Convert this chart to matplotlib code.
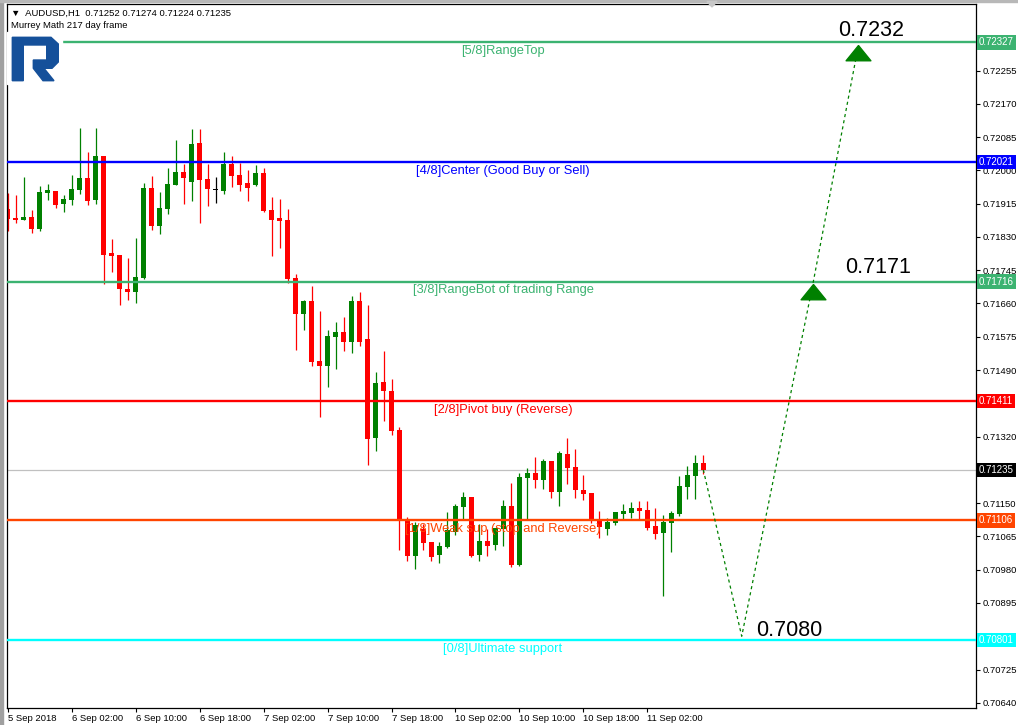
import matplotlib
matplotlib.use("Agg")
import matplotlib.pyplot as plt
from matplotlib.patches import Rectangle, Polygon
import numpy as np

plt.rcParams['font.family'] = ['Liberation Sans', 'DejaVu Sans']

# hourly AUDUSD candles, 5 Sep 18:00 .. 11 Sep 09:00
opens = [0.71902, 0.71879, 0.71874, 0.71881, 0.71849, 0.71943, 0.71948, 0.71915, 0.71925, 0.71950,
         0.71981, 0.71925, 0.72037, 0.71789, 0.71784, 0.71697, 0.71690, 0.71725, 0.71955, 0.71858,
         0.71902, 0.71963, 0.71996, 0.71971, 0.72070, 0.71978, 0.71949, 0.71948, 0.72017, 0.71988,
         0.71968, 0.71963, 0.71994, 0.71899, 0.71879, 0.71874, 0.71725, 0.71633, 0.71667, 0.71513,
         0.71500, 0.71575, 0.71587, 0.71562, 0.71667, 0.71569, 0.71317, 0.71460, 0.71437, 0.71337,
         0.71107, 0.71015, 0.71084, 0.71051, 0.71018, 0.71038, 0.71076, 0.71140, 0.71166, 0.71018,
         0.71053, 0.71043, 0.71084, 0.71143, 0.70992, 0.71214, 0.71227, 0.71209, 0.71258, 0.71179,
         0.71276, 0.71242, 0.71184, 0.71176, 0.71104, 0.71084, 0.71099, 0.71122, 0.71125, 0.71138,
         0.71133, 0.71092, 0.71074, 0.71099, 0.71122, 0.71191, 0.71219, 0.71252]
highs = [0.71943, 0.71937, 0.71983, 0.71899, 0.71960, 0.71965, 0.71948, 0.71937, 0.71988, 0.72109,
         0.72047, 0.72109, 0.72037, 0.71825, 0.71784, 0.71776, 0.71828, 0.71968, 0.71986, 0.71945,
         0.72006, 0.72078, 0.72017, 0.72106, 0.72106, 0.72017, 0.71983, 0.72047, 0.72037, 0.72019,
         0.72001, 0.72014, 0.72006, 0.71932, 0.71927, 0.71902, 0.71736, 0.71669, 0.71705, 0.71641,
         0.71592, 0.71613, 0.71626, 0.71679, 0.71690, 0.71656, 0.71485, 0.71539, 0.71467, 0.71345,
         0.71115, 0.71102, 0.71097, 0.71051, 0.71051, 0.71127, 0.71148, 0.71179, 0.71166, 0.71097,
         0.71084, 0.71087, 0.71158, 0.71202, 0.71227, 0.71240, 0.71268, 0.71263, 0.71258, 0.71283,
         0.71317, 0.71288, 0.71222, 0.71176, 0.71130, 0.71112, 0.71127, 0.71148, 0.71153, 0.71156,
         0.71156, 0.71138, 0.71120, 0.71130, 0.71219, 0.71245, 0.71273, 0.71274]
lows = [0.71846, 0.71866, 0.71872, 0.71839, 0.71844, 0.71925, 0.71904, 0.71894, 0.71912, 0.71940,
        0.71912, 0.71914, 0.71710, 0.71741, 0.71656, 0.71669, 0.71661, 0.71723, 0.71848, 0.71838,
        0.71889, 0.71963, 0.71914, 0.71922, 0.71866, 0.71909, 0.71917, 0.71940, 0.71958, 0.71948,
        0.71922, 0.71960, 0.71894, 0.71782, 0.71802, 0.71713, 0.71541, 0.71592, 0.71500, 0.71370,
        0.71447, 0.71493, 0.71539, 0.71534, 0.71552, 0.71248, 0.71283, 0.71360, 0.71324, 0.71030,
        0.71002, 0.70982, 0.71030, 0.71002, 0.70997, 0.71035, 0.71069, 0.71107, 0.71012, 0.71002,
        0.71015, 0.71030, 0.71041, 0.70987, 0.70989, 0.71110, 0.71189, 0.71186, 0.71163, 0.71143,
        0.71199, 0.71163, 0.71158, 0.71099, 0.71061, 0.71069, 0.71094, 0.71110, 0.71112, 0.71110,
        0.71081, 0.71058, 0.70913, 0.71025, 0.71117, 0.71161, 0.71161, 0.71224]
closes = [0.71876, 0.71872, 0.71881, 0.71851, 0.71945, 0.71950, 0.71912, 0.71927, 0.71953, 0.71981,
          0.71922, 0.72037, 0.71784, 0.71782, 0.71697, 0.71690, 0.71728, 0.71955, 0.71858, 0.71904,
          0.71965, 0.71996, 0.71981, 0.72068, 0.71976, 0.71953, 0.71949, 0.72017, 0.71986, 0.71963,
          0.71955, 0.71994, 0.71896, 0.71874, 0.71871, 0.71723, 0.71633, 0.71667, 0.71511, 0.71500,
          0.71577, 0.71587, 0.71562, 0.71667, 0.71562, 0.71314, 0.71457, 0.71437, 0.71334, 0.71110,
          0.71015, 0.71094, 0.71048, 0.71012, 0.71041, 0.71081, 0.71143, 0.71166, 0.71015, 0.71053,
          0.71041, 0.71087, 0.71143, 0.70992, 0.71217, 0.71227, 0.71209, 0.71258, 0.71179, 0.71278,
          0.71240, 0.71184, 0.71173, 0.71104, 0.71089, 0.71102, 0.71127, 0.71130, 0.71138, 0.71130,
          0.71087, 0.71071, 0.71102, 0.71125, 0.71194, 0.71222, 0.71253, 0.71235]

time_labels = ['5 Sep 2018', '6 Sep 02:00', '6 Sep 10:00', '6 Sep 18:00', '7 Sep 02:00', '7 Sep 10:00',
               '7 Sep 18:00', '10 Sep 02:00', '10 Sep 10:00', '10 Sep 18:00', '11 Sep 02:00']
time_label_bars = [0, 8, 16, 24, 32, 40, 48, 56, 64, 72, 80]

# price scale; 0.71405, 0.71235 and 0.70810 sit under the coloured price tags
y_ticks = [0.72340, 0.72255, 0.72170, 0.72085, 0.72000, 0.71915, 0.71830, 0.71745, 0.71660, 0.71575,
           0.71490, 0.71405, 0.71320, 0.71235, 0.71150, 0.71065, 0.70980, 0.70895, 0.70810, 0.70725,
           0.70640]
hidden_ticks = [0.71405, 0.71235, 0.70810]

level_prices = [0.72327, 0.72021, 0.71716, 0.71411, 0.71106, 0.70801]
level_names = ['[5/8]RangeTop', '[4/8]Center (Good Buy or Sell)', '[3/8]RangeBot of trading Range',
               '[2/8]Pivot buy (Reverse)', '[1/8]Weak sup (stop and Reverse)', '[0/8]Ultimate support']
level_colors = ['#3CB371', '#0000FF', '#3CB371', '#FF0000', '#FF4500', '#00FFFF']
current_price = 0.71235

forecast_bars = [87, 91.8, 100.7, 106.4]
forecast_prices = [0.71235, 0.7081, 0.7171, 0.7232]
target_texts = ['0.7080', '0.7171', '0.7232']

W, H = 1018, 725
fig = plt.figure(figsize=(W / 100, H / 100), dpi=100)
fig.patch.set_facecolor('white')
ax = fig.add_axes([6.5 / W, 1 - 707.5 / H, (976 - 6.5) / W, (707.5 - 4) / H])
ax.set_xlim(-0.15, 121.1)
ax.set_ylim(0.70628, 0.72425)

o = np.array(opens)
c = np.array(closes)
x = np.arange(len(o))
cols = np.where(c > o, '#008000', np.where(c < o, '#FF0000', '#000000'))

ax.vlines(x, lows, highs, colors=cols, lw=0.9, zorder=2)
ax.bar(x, np.maximum(np.abs(c - o), 0.00003), bottom=np.minimum(o, c), width=0.62,
       color=cols, lw=0, zorder=2.1)

# current price line behind candles
ax.axhline(current_price, color='#C0C0C0', lw=0.9, zorder=1)

for p, name, col in zip(level_prices, level_names, level_colors):
    ax.axhline(p, color=col, lw=1.7, zorder=3)
    ax.annotate(name, xy=(61.95, p), xytext=(0, -6.3), textcoords='offset points',
                ha='center', va='center', color=col, fontsize=9.3, zorder=4)

# price tags on the right scale
tags = list(zip(level_prices, level_colors)) + [(current_price, '#000000')]
for p, col in tags:
    ax.annotate(f'{p:.5f}', xy=(1, p), xycoords=('axes fraction', 'data'), xytext=(2.2, 0),
                textcoords='offset points', ha='left', va='center', color='white', fontsize=7,
                bbox=dict(boxstyle='square,pad=0.22', fc=col, ec='none'), zorder=6)

# forecast path
ax.plot(forecast_bars, forecast_prices, color='#008000', lw=0.9, ls=(0, (2.5, 2.5)), zorder=4)
tri = [(0, 0), (-0.81, -1), (0.81, -1), (0, 0)]
ax.plot(forecast_bars[2:], forecast_prices[2:], ls='none', marker=tri, ms=22,
        color='#008000', mec='#008000', zorder=5)
offsets = [(48, 6), (65, 16), (13, 15)]
for bx, py, txt, (dx, dy) in zip(forecast_bars[1:], forecast_prices[1:], target_texts, offsets):
    ax.annotate(txt, xy=(bx, py), xytext=(dx * 0.72, dy * 0.72), textcoords='offset points',
                ha='center', va='center', fontsize=15.5, color='black', zorder=6)

ax.yaxis.tick_right()
ax.set_yticks(y_ticks)
ax.set_yticklabels(['' if v in hidden_ticks else f'{v:.5f}' for v in y_ticks])
ax.tick_params(axis='y', direction='out', length=3, width=0.8, pad=2, labelsize=6.8)
ax.set_xticks(time_label_bars)
ax.set_xticklabels(time_labels, ha='left')
ax.tick_params(axis='x', direction='out', length=3, width=0.8, pad=1.5, labelsize=6.8)
for s in ax.spines.values():
    s.set_linewidth(0.9)
    s.set_color('black')

# overlay in pixel coordinates for window decorations and logo
ov = fig.add_axes([0, 0, 1, 1], zorder=5)
ov.set_xlim(0, W)
ov.set_ylim(H, 0)
ov.axis('off')
ov.add_patch(Rectangle((0, 0), 3, H, color='#A0A0A0'))
ov.add_patch(Rectangle((0, 0), W, 2, color='#B8B8B8'))
ov.add_patch(Polygon([(707, 1.5), (717, 1.5), (712, 7)], closed=True, color='#C8C8C8'))
ov.add_patch(Rectangle((7.5, 32), 54.5, 52, color='white'))
logo = '#15509A'
ov.add_patch(Polygon([(12.3, 37.3), (51, 37.3), (58.3, 44), (58.3, 62), (52, 68.3), (33.3, 68.3),
                      (33.3, 60), (46.7, 60), (46.7, 45), (23.3, 45), (23.3, 80.7), (12.3, 80.7)],
                     closed=True, color=logo))
ov.add_patch(Polygon([(33.3, 68.3), (44, 68.3), (54, 80.7), (43, 80.7)], closed=True, color=logo))

head = '\u25BC  AUDUSD,H1  ' + ' '.join(f'{v:.5f}' for v in (opens[-1], highs[-1], lows[-1], closes[-1]))
ov.text(11, 13, head, fontsize=6.8, va='center', ha='left', color='black')
ov.text(11, 25.5, 'Murrey Math 217 day frame', fontsize=6.8, va='center', ha='left', color='black')

fig.savefig('out.png', dpi=100)
